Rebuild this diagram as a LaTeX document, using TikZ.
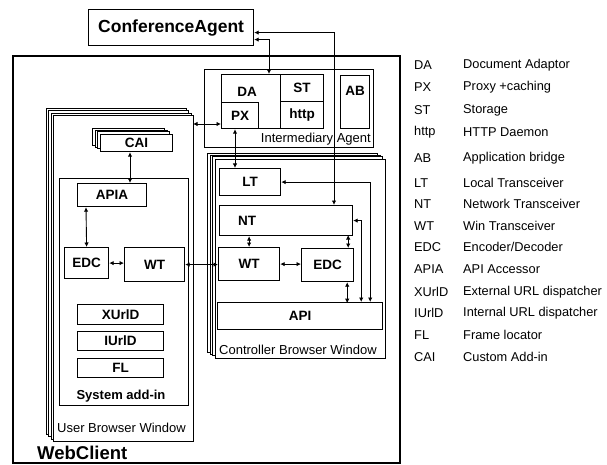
\documentclass[tikz,border=0pt]{standalone}
\usepackage{fontspec}
\setmainfont{Liberation Sans}
\usetikzlibrary{arrows.meta,calc}

\tikzset{
  blk/.style={draw, line width=1.2pt, inner sep=0pt, anchor=north west,
    font=\bfseries\fontsize{13.5}{15}\selectfont},
  frm/.style={draw, line width=0.8pt},
  conn/.style={line width=0.9pt,
    {Latex[length=4.5pt,width=4.5pt]}-{Latex[length=4.5pt,width=4.5pt]}},
  boxtxt/.style={inner sep=0pt, font=\bfseries\fontsize{13.5}{15}\selectfont},
  lbl/.style={inner sep=0pt, font=\fontsize{13}{15}\selectfont},
  keytxt/.style={inner sep=0pt, anchor=west, font=\fontsize{12.8}{15}\selectfont}
}

\begin{document}
\begin{tikzpicture}[x=1pt,y=-1pt]
\useasboundingbox (0,0) rectangle (607,465);

% WebClient frame
\draw[line width=1.3pt] (13,56) rectangle (400,463);
\draw[line width=2pt] (13,56) -- (400,56);
\node[inner sep=0pt, anchor=west, font=\bfseries\fontsize{18.5}{20}\selectfont] (webclient) at (37,452.5) {WebClient};

% conference agent
\node[blk, minimum width=165, minimum height=36, font=\bfseries\fontsize{17.5}{20}\selectfont] (ca) at (88,9) {ConferenceAgent};

% intermediary agent
\draw[frm] (204,69) rectangle (373,147);
\node[lbl, anchor=base east] (ialbl) at (371,143) {Intermediary Agent};
\node[blk, minimum width=59, minimum height=54] (da) at (221,74) {};
\node[boxtxt] at ($(da.north)+(-4,18)$) {DA};
\node[blk, minimum width=37, minimum height=26] (px) at (221,102) {PX};
\node[blk, minimum width=43, minimum height=27] (st) at (280,74) {ST};
\node[blk, minimum width=43, minimum height=27] (http) at (280,101) {http};
\node[blk, minimum width=29, minimum height=53] (ab) at (340,75) {};
\node[boxtxt] at ($(ab.north)+(0,16)$) {AB};

% user browser window
\foreach \d in {7,4.5,2}
  \draw[frm, fill=white] (53-\d,115-\d) rectangle ++(140,326);
\draw[frm, fill=white] (53,115) rectangle ++(140,326);
\node[lbl, anchor=base west] (ubwlbl) at (57,432.5) {User Browser Window};
\coordinate (ubwport) at (193,124);

\foreach \d in {8,5,3}
  \draw[frm, fill=white] (100-\d,134-0.75*\d) rectangle ++(72,17);
\node[blk, minimum width=72, minimum height=17, fill=white] (cai) at (100,134) {CAI};

\draw[frm] (59,178) rectangle (188,405);
\node[boxtxt, font=\bfseries\fontsize{13}{15}\selectfont] (sailbl) at (121,396) {System add-in};
\node[blk, minimum width=69, minimum height=23] (apia) at (77,183) {APIA};
\node[blk, minimum width=44, minimum height=31] (edcl) at (64,247) {EDC};
\node[blk, minimum width=60, minimum height=34] (wtl) at (124,247) {WT};
\node[blk, minimum width=86, minimum height=20] (xurld) at (77,304) {XUrlD};
\node[blk, minimum width=86, minimum height=19] (iurld) at (77,331) {IUrlD};
\node[blk, minimum width=86, minimum height=19] (fl) at (77,358) {FL};

% controller browser window
\foreach \d in {8,5,3}
  \draw[frm, fill=white] (215-\d,159-0.75*\d) rectangle ++(170,199);
\draw[frm, fill=white] (215,159) rectangle ++(170,199);
\node[lbl, anchor=base west] (cbwlbl) at (219,354.5) {Controller Browser Window};
\node[blk, minimum width=61, minimum height=27] (lt) at (219,168) {LT};
\node[blk, minimum width=133, minimum height=30] (nt) at (219,205) {};
\node[boxtxt] at ($(nt.west)+(28,0)$) {NT};
\node[blk, minimum width=61, minimum height=33] (wtr) at (218,247) {WT};
\node[blk, minimum width=52, minimum height=33] (edcr) at (301,248) {EDC};
\node[blk, minimum width=165, minimum height=27] (api) at (217,302) {API};

% connectors
\draw[conn] ($(ca.east)+(0,5)$) -| ($(nt.north west)+(115,0)$);
\draw[conn] ($(ca.east)+(0,12)$) -| ($(da.north west)+(48,0)$);
\draw[conn] (ubwport) -- (ubwport -| px.west);
\draw[conn] ($(px.south west)+(14,0)$) -- ($(lt.north west)+(16,0)$);
\draw[conn] ($(cai.south west)+(30,0)$) -- ($(apia.north west)+(53,0)$);
\draw[conn] ($(apia.south west)+(9,0)$) -- (edcl.north);
\draw[conn] (edcl.east) -- (edcl.east -| wtl.west);
\draw[conn] (wtl.east) -- (wtl.east -| wtr.west);
\draw[conn] (wtr.north |- nt.south) -- (wtr.north);
\draw[conn] ($(edcr.north east)+(-6,0)$) -- ++(0,-13);
\draw[conn] (wtr.east) -- (wtr.east -| edcr.west);
\draw[conn] ($(edcr.south east)+(-7,0)$) -- ++(0,21);
\draw[conn] (nt.east) -| ($(api.north east)+(-22,0)$);
\draw[conn] (lt.east) -| ($(api.north east)+(-13,0)$);

% legend
\foreach \yy/\ab/\desc [count=\i] in {65/DA/Document Adaptor, 87/PX/Proxy +caching,
    110/ST/Storage, 132/http/HTTP Daemon, 158/AB/Application bridge,
    183/LT/Local Transceiver, 204/NT/Network Transceiver, 226/WT/Win Transceiver,
    247/EDC/{Encoder/Decoder}, 269/APIA/API Accessor, 292/XUrlD/External URL dispatcher,
    313/IUrlD/Internal URL dispatcher, 335/FL/Frame locator, 357/CAI/Custom Add-in} {
  \node[keytxt] (key\i) at (414,\yy) {\ab};
  \node[keytxt] (desc\i) at (463,\yy) {\desc};
}
\end{tikzpicture}
\end{document}
